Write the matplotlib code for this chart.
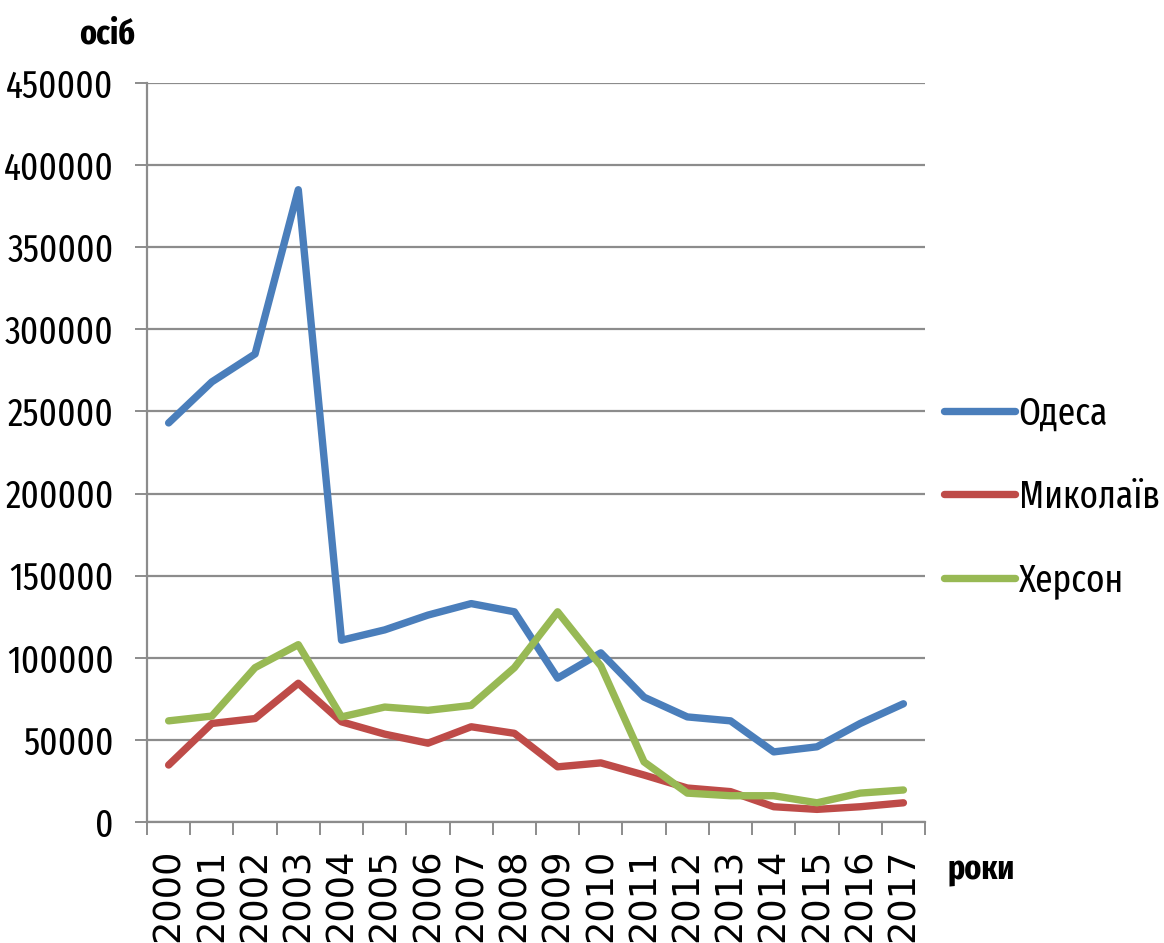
import matplotlib
matplotlib.use("Agg")
import matplotlib.pyplot as plt

years = [str(y) for y in range(2000, 2018)]
odesa = [243000, 268000, 285000, 385000, 110700, 117000, 126000, 133000, 128000,
         87600, 103000, 76000, 64000, 61600, 42700, 45800, 60000, 72000]
mykolaiv = [34700, 60000, 63000, 84500, 61000, 53500, 48000, 58000, 54000,
            33600, 36000, 28600, 20700, 18500, 9300, 7700, 9300, 11700]
kherson = [61600, 64500, 94000, 108000, 64000, 70000, 68000, 71000, 94000,
           128000, 95000, 36600, 17600, 16000, 16000, 11700, 17600, 19500]
series_names = ["Одеса", "Миколаїв", "Херсон"]
colors = ["#4A7EBB", "#BE4B48", "#98B954"]
yticks = list(range(0, 450001, 50000))

narrow = ["Fira Sans Extra Condensed", "DejaVu Sans"]

fig = plt.figure(figsize=(11.64, 9.43), dpi=100)
ax = fig.add_axes([0.1263, 0.1283, 0.7947 - 0.1263, 0.912 - 0.1283])

x = list(range(len(years)))
for vals, name, c in zip([odesa, mykolaiv, kherson], series_names, colors):
    ax.plot(x, vals, color=c, lw=5.3, label=name, solid_joinstyle="round",
            solid_capstyle="round")

ax.set_xlim(-0.5, len(years) - 0.5)
ax.set_ylim(0, 450000)
ax.set_yticks(yticks)
ax.set_yticklabels([str(v) for v in yticks], fontfamily=narrow, fontsize=27.5)
ax.yaxis.grid(True, color="#8c8c8c", lw=1.6)
ax.set_axisbelow(True)

ax.set_xticks(x)
ax.set_xticklabels(years, rotation=90, fontfamily="DejaVu Sans", fontsize=26.5,
                   va="top", ha="center")
ax.set_xticks([i - 0.5 for i in range(len(years) + 1)], minor=True)
ax.tick_params(axis="x", which="major", length=0, pad=19)
ax.tick_params(axis="x", which="minor", length=9, width=1.4, color="#8c8c8c")
ax.tick_params(axis="y", length=9, width=1.4, color="#8c8c8c", pad=15)

for s in ["top", "right"]:
    ax.spines[s].set_visible(False)
for s in ["left", "bottom"]:
    ax.spines[s].set_color("#8c8c8c")
    ax.spines[s].set_linewidth(1.6)

leg = ax.legend(loc="center left", bbox_to_anchor=(1.0, 0.44), frameon=False,
                prop={"family": narrow, "size": 27.5}, handlelength=1.85,
                handletextpad=0.1, labelspacing=1.2, borderaxespad=0.1)

fig.text(0.092, 0.964, "осіб", fontfamily=narrow, fontweight="bold", fontsize=25,
         ha="center", va="center")
fig.text(0.814, 0.077, "роки", fontfamily=narrow, fontweight="bold", fontsize=25,
         ha="left", va="center")

fig.savefig("out.png", dpi=100)
